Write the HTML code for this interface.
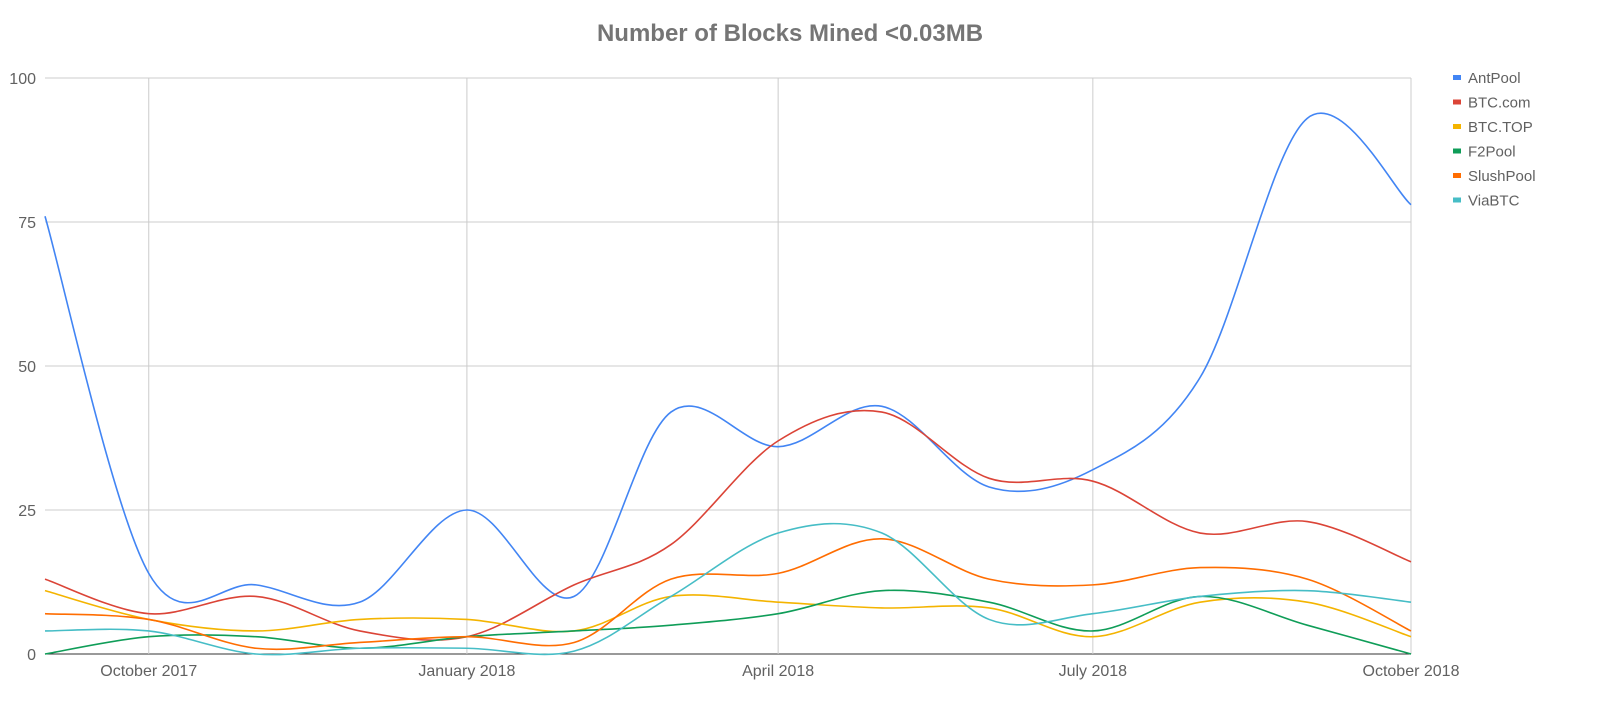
<!DOCTYPE html>
<html><head><meta charset="utf-8"><style>
body{margin:0;background:#fff;}
svg text{font-family:"Liberation Sans",Arial,sans-serif;}
</style></head><body>
<svg id="chart" width="1600" height="708">
<text x="790" y="41" text-anchor="middle" font-size="24" font-weight="bold" fill="#757575">Number of Blocks Mined &lt;0.03MB</text>
<g id="grid"></g><g id="series"></g><g id="legend"></g>
</svg>
<script>
const months = ["2017-09","2017-10","2017-11","2017-12","2018-01","2018-02","2018-03","2018-04","2018-05","2018-06","2018-07","2018-08","2018-09","2018-10"];
const seriesNames = ["AntPool","BTC.com","BTC.TOP","F2Pool","SlushPool","ViaBTC"];
const antpool = [76,14,12,9,25,10,42,36,43,29,32,48,93,78];
const btccom = [13,7,10,4,3,12,19,37,42,30.5,30,21,23,16];
const btctop = [11,6,4,6,6,4,10,9,8,8,3,9,9,3];
const f2pool = [0,3,3,1,3,4,5,7,11,9,4,10,5,0];
const slushpool = [7,6,1,2,3,2,13,14,20,13,12,15,13,4];
const viabtc = [4,4,0,1,1,0.5,10,21,21,6,7,10,11,9];
const yTicks = [0,25,50,75,100];
const xTickLabels = ["October 2017","January 2018","April 2018","July 2018","October 2018"];
const xTickMonths = ["2017-10","2018-01","2018-04","2018-07","2018-10"];
const colors = ["#4285F4","#DB4437","#F4B400","#0F9D58","#FF6D01","#46BDC6"];
const allData = [antpool,btccom,btctop,f2pool,slushpool,viabtc];

const L=45,R=1411,T=78,B=654;
const t0=Date.UTC(2017,8,1), t1=Date.UTC(2018,9,1);
function mt(m){const [y,mo]=m.split("-").map(Number);return Date.UTC(y,mo-1,1);}
function xs(m){return L+(mt(m)-t0)/(t1-t0)*(R-L);}
function ys(v){return B-v/100*(B-T);}
const NS="http://www.w3.org/2000/svg";
function mk(tag,attrs,parent){const e=document.createElementNS(NS,tag);for(const k in attrs)e.setAttribute(k,attrs[k]);parent.appendChild(e);return e;}
const grid=document.getElementById("grid");
yTicks.forEach(v=>{
  const l=mk("line",{x1:L,x2:R,y1:ys(v),y2:ys(v),stroke:v===0?"#333":"#ccc","stroke-width":1},grid);
  
  
  const t=mk("text",{x:36,y:ys(v)+6,"text-anchor":"end","font-size":16,fill:"#616161"},grid);
  t.textContent=v;
  
  
});
xTickMonths.forEach((m,i)=>{
  const l=mk("line",{x1:xs(m),x2:xs(m),y1:T,y2:B,stroke:"#ccc","stroke-width":1},grid);
  
  
  const t=mk("text",{x:xs(m),y:676,"text-anchor":"middle","font-size":16,fill:"#616161"},grid);
  t.textContent=xTickLabels[i];
  
  
});
const sg=document.getElementById("series");
allData.forEach((arr,si)=>{
  const pts=arr.map((v,i)=>[xs(months[i]),ys(v)]);
  let d="M"+pts[0][0]+","+pts[0][1];
  for(let i=0;i<pts.length-1;i++){
    const p0=pts[i-1]||pts[i],p1=pts[i],p2=pts[i+1],p3=pts[i+2]||pts[i+1];
    const k=1/6;
    d+=" C"+(p1[0]+(p2[0]-p0[0])*k)+","+(p1[1]+(p2[1]-p0[1])*k)+" "+(p2[0]-(p3[0]-p1[0])*k)+","+(p2[1]-(p3[1]-p1[1])*k)+" "+p2[0]+","+p2[1];
  }
  const p=mk("path",{d:d,fill:"none",stroke:colors[si],"stroke-width":1.6},sg);
  
  
});
const lg=document.getElementById("legend");
seriesNames.forEach((n,i)=>{
  const g=mk("g",{},lg);
  
  
  const y=78+i*24.5;
  mk("rect",{x:1453,y:y-3,width:8,height:5,fill:colors[i]},g);
  const t=mk("text",{x:1468,y:y+5,"font-size":15,fill:"#616161"},g);
  t.textContent=n;
});
</script>
</body></html>
